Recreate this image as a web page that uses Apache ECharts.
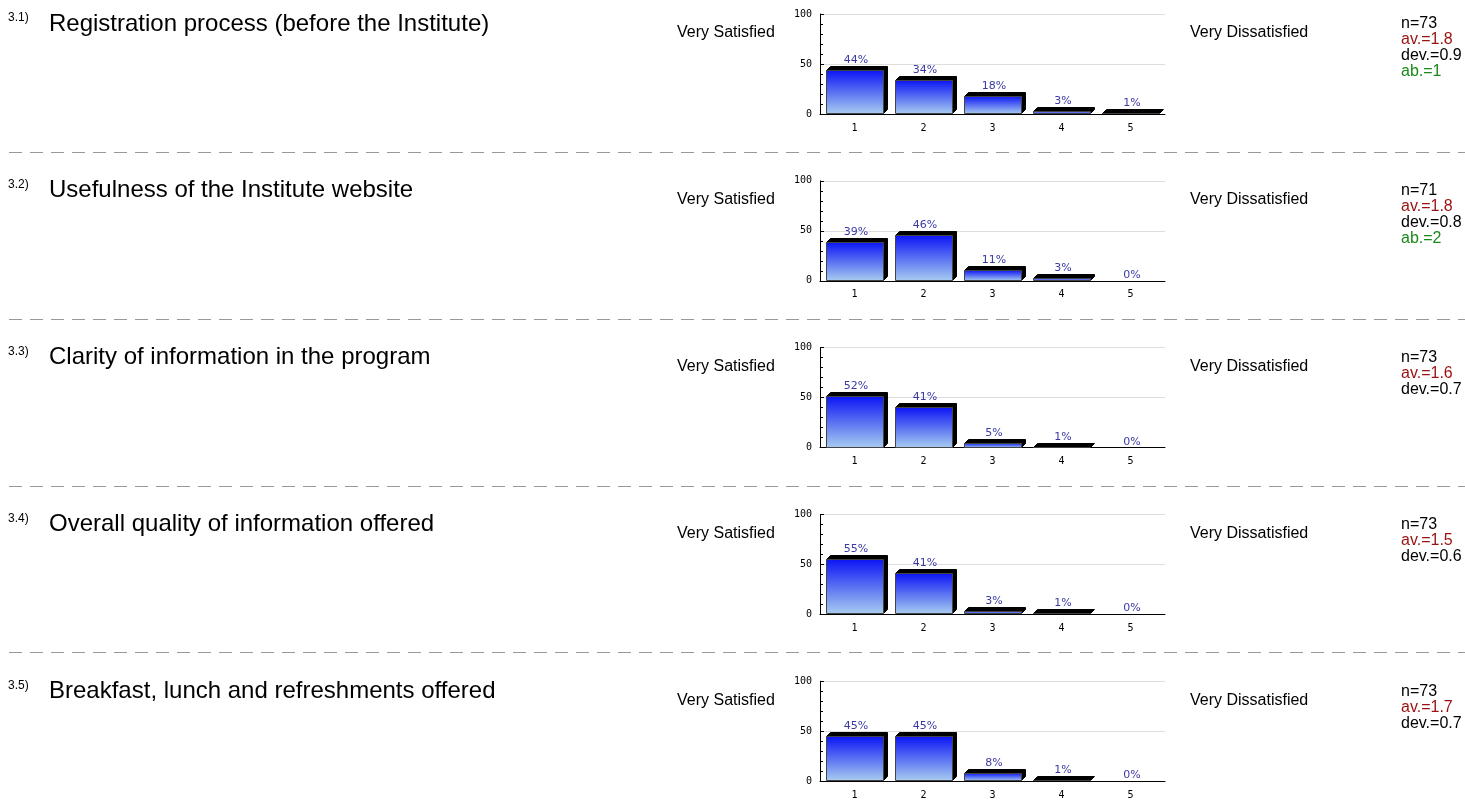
<!DOCTYPE html>
<html>
<head>
<meta charset="utf-8">
<script src="https://cdn.jsdelivr.net/npm/echarts@6/dist/echarts.min.js"></script>
<style>
	html, body { margin: 0; padding: 0; background: #fff; }
	#chart { width: 1465px; height: 803px; }
</style>
</head>
<body>
<div id="chart"></div>
<script>
	// survey section 3 - satisfaction ratings
	const numbers = ['3.1)', '3.2)', '3.3)', '3.4)', '3.5)'];
	const questions = [
		'Registration process (before the Institute)',
		'Usefulness of the Institute website',
		'Clarity of information in the program',
		'Overall quality of information offered',
		'Breakfast, lunch and refreshments offered'
	];
	const categories = ['1', '2', '3', '4', '5'];
	const values = [
		[44, 34, 18, 3, 1],
		[39, 46, 11, 3, 0],
		[52, 41, 5, 1, 0],
		[55, 41, 3, 1, 0],
		[45, 45, 8, 1, 0]
	];
	const nCount = [73, 71, 73, 73, 73];
	const average = ['1.8', '1.8', '1.6', '1.5', '1.7'];
	const deviation = ['0.9', '0.8', '0.7', '0.6', '0.7'];
	const abstain = [1, 2, null, null, null];

	const rowStep = 166.8;
	const depth = 4; // 3d extrusion in px
	const grids = [], xAxes = [], yAxes = [], series = [], graphics = [];

	const barGradient = new echarts.graphic.LinearGradient(0, 0, 0, 1, [
		{ offset: 0, color: '#0a14f5' },
		{ offset: 1, color: '#a8cdf0' }
	]);

	// bar with black 3d side/top, drawn from the axis scales
	function renderBar(params, api) {
		const idx = api.value(0);
		const v = api.value(1);
		const top = api.coord([idx, v]);
		const base = api.coord([idx, 0]);
		const w = api.size([1, 0])[0] * 0.83;
		const x0 = Math.round(top[0] - w / 2) + 0.5;
		const x1 = x0 + Math.round(w);
		const yT = Math.round(top[1]) + 0.5;
		const yB = Math.round(base[1]) - 0.5;
		const children = [];
		if (v > 0) {
			children.push({
				type: 'polygon',
				shape: { points: [[x0, yT], [x0 + depth, yT - depth], [x1 + depth, yT - depth], [x1 + depth, yB - depth], [x1, yB], [x1, yT]] },
				style: { fill: '#000', stroke: '#000', lineWidth: 1 }
			});
			children.push({
				type: 'rect',
				shape: { x: x0, y: yT, width: x1 - x0, height: Math.max(yB - yT, 0) },
				style: { fill: barGradient, stroke: '#444', lineWidth: 1 }
			});
		}
		children.push({
			type: 'text',
			style: {
				x: (x0 + x1) / 2 + 1,
				y: (v > 0 ? yT - depth : yT) - 1,
				text: v + '%',
				align: 'center',
				verticalAlign: 'bottom',
				fill: '#3a3aa6',
				font: '11px "DejaVu Sans"'
			}
		});
		return { type: 'group', children: children };
	}

	values.forEach(function (vals, i) {
		const top = 14 + i * rowStep;
		grids.push({ left: 820, width: 345, top: top, height: 100 });
		xAxes.push({
			type: 'category',
			gridIndex: i,
			data: categories,
			axisLine: { lineStyle: { color: '#000', width: 1 } },
			axisTick: { inside: true, length: 4, lineStyle: { color: '#000' } },
			axisLabel: { color: '#000', fontSize: 10, fontFamily: 'DejaVu Sans Mono', margin: 9 }
		});
		yAxes.push({
			type: 'value',
			gridIndex: i,
			min: 0,
			max: 100,
			interval: 50,
			axisLine: { show: true, lineStyle: { color: '#000', width: 1 } },
			axisTick: { show: true, inside: true, length: 4, lineStyle: { color: '#000' } },
			minorTick: { show: true, splitNumber: 5, length: 3, lineStyle: { color: '#000' } },
			splitLine: { lineStyle: { color: '#dddddd' } },
			axisLabel: { color: '#000', fontSize: 10, fontFamily: 'DejaVu Sans Mono', margin: 8 }
		});
		series.push({
			type: 'custom',
			xAxisIndex: i,
			yAxisIndex: i,
			data: vals.map(function (v, k) { return [k, v]; }),
			renderItem: renderBar,
			clip: false,
			animation: false
		});

		const y0 = i * rowStep;
		graphics.push({ type: 'text', left: 8, top: y0 + 12, style: { text: numbers[i], font: '12px "Liberation Sans"', fill: '#000' } });
		graphics.push({ type: 'text', left: 49, top: y0 + 12, style: { text: questions[i], font: '24px "Liberation Sans"', fill: '#000' } });
		graphics.push({ type: 'text', left: 677, top: y0 + 25, style: { text: 'Very Satisfied', font: '16px "Liberation Sans"', fill: '#000' } });
		graphics.push({ type: 'text', left: 1190, top: y0 + 25, style: { text: 'Very Dissatisfied', font: '16px "Liberation Sans"', fill: '#000' } });
		graphics.push({ type: 'text', left: 1401, top: y0 + 16, style: { text: 'n=' + nCount[i], font: '16px "Liberation Sans"', fill: '#000' } });
		graphics.push({ type: 'text', left: 1401, top: y0 + 32, style: { text: 'av.=' + average[i], font: '16px "Liberation Sans"', fill: '#9b1010' } });
		graphics.push({ type: 'text', left: 1401, top: y0 + 48, style: { text: 'dev.=' + deviation[i], font: '16px "Liberation Sans"', fill: '#000' } });
		if (abstain[i] !== null) {
			graphics.push({ type: 'text', left: 1401, top: y0 + 64, style: { text: 'ab.=' + abstain[i], font: '16px "Liberation Sans"', fill: '#1a8a1a' } });
		}
		if (i < values.length - 1) {
			const ly = Math.round(y0 + 152) + 0.5;
			graphics.push({
				type: 'line',
				shape: { x1: 9, y1: ly, x2: 1465, y2: ly },
				style: { stroke: '#999', lineWidth: 1, lineDash: [13, 8] }
			});
		}
	});

	const myChart = echarts.init(document.getElementById('chart'));
	myChart.setOption({
		animation: false,
		grid: grids,
		xAxis: xAxes,
		yAxis: yAxes,
		series: series,
		graphic: graphics
	});
</script>
</body>
</html>
